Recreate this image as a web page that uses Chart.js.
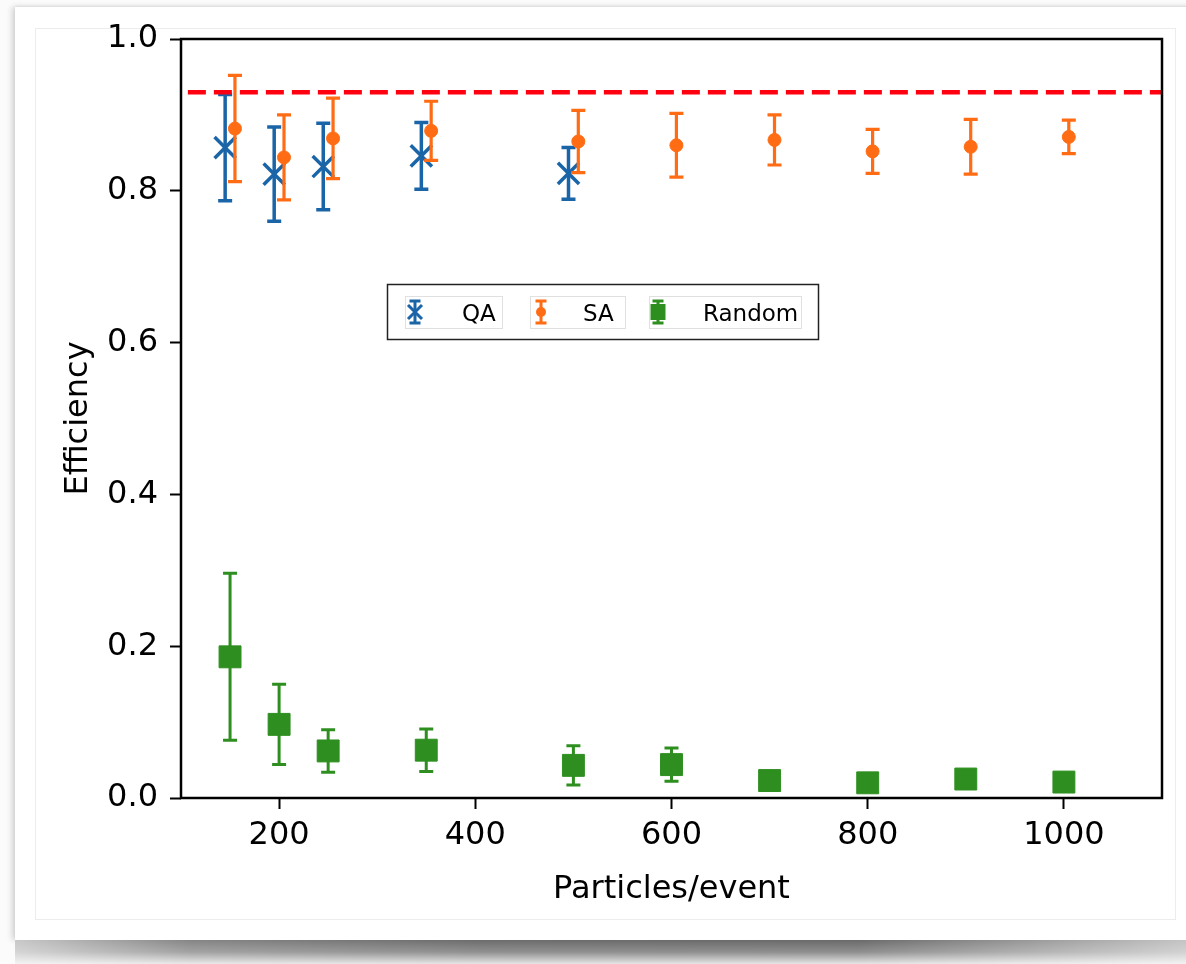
<!DOCTYPE html>
<html>
<head>
<meta charset="utf-8">
<script src="https://cdn.jsdelivr.net/npm/chart.js@4.4.1/dist/chart.umd.min.js"></script>
<style>
  html, body { margin: 0; padding: 0; background: #fbfbfb; }
  body { width: 1186px; height: 964px; position: relative; overflow: hidden; }
  #card { position: absolute; left: 15px; top: 7px; width: 1200px; height: 933px; background: #fff;
          box-shadow: -3px 0 6px rgba(0,0,0,0.16), 0 -1px 3px rgba(0,0,0,0.05); }
  #inner { position: absolute; left: 35px; top: 28px; width: 1141px; height: 892px;
           border: 1px solid #ececec; box-sizing: border-box; }
  #curl { position: absolute; left: 15px; top: 940px; width: 1171px; height: 24px;
          background: linear-gradient(to bottom, rgba(251,251,251,0) 0%, rgba(251,251,251,0.25) 50%, rgba(251,251,251,0.85) 100%),
                      linear-gradient(to right, #c8c8c8 0%, #858585 15%, #6c6c6c 40%, #6a6a6a 72%, #c4c4c4 100%); }
  #resultsChart { position: absolute; left: 0; top: 0; }
</style>
</head>
<body>
<div id="card"></div>
<div id="inner"></div>
<div id="curl"></div>
<canvas id="resultsChart" width="1186" height="964"></canvas>
<script>
// QA points (drawn slightly left of the particle count)
const qaX = [145, 195, 245, 345, 495];
const qaY = [0.857, 0.822, 0.832, 0.846, 0.823];
const qaErr = [0.070, 0.062, 0.057, 0.044, 0.034];

// SA points (slightly right)
const saX = [155, 205, 255, 355, 505, 605, 705, 805, 905, 1005];
const saY = [0.882, 0.844, 0.869, 0.879, 0.865, 0.860, 0.867, 0.852, 0.858, 0.871];
const saErr = [0.070, 0.056, 0.053, 0.039, 0.041, 0.042, 0.033, 0.029, 0.036, 0.022];

// Random
const rndX = [150, 200, 250, 350, 500, 600, 700, 800, 900, 1000];
const rndY = [0.186, 0.097, 0.062, 0.063, 0.043, 0.044, 0.023, 0.020, 0.025, 0.021];
const rndErr = [0.110, 0.053, 0.028, 0.028, 0.026, 0.022, 0.008, 0.008, 0.008, 0.008];

// dashed reference level
const refX = [107, 1100];
const refY = [0.93, 0.93];

const xTickValues = [200, 400, 600, 800, 1000];
const yTickValues = [0, 0.2, 0.4, 0.6, 0.8, 1.0];

const blue = '#1a65a8';
const orange = '#ff6c14';
const green = '#2e8f20';
const red = '#ff0010';
const font = 'DejaVu Sans';

const toPoints = (xs, ys) => xs.map((x, i) => ({ x: x, y: ys[i] }));

// error bars go under each series' markers
const errorBars = {
    id: 'errorBars',
    beforeDatasetDraw(chart, args) {
        const ds = chart.data.datasets[args.index];
        if (!ds.errors) return;
        const ctx = chart.ctx;
        const x = chart.scales.x;
        const y = chart.scales.y;
        ctx.save();
        ctx.strokeStyle = ds.borderColor;
        ctx.lineWidth = ds.barWidth;
        ds.data.forEach((p, i) => {
            const e = ds.errors[i];
            const px = x.getPixelForValue(p.x);
            const top = y.getPixelForValue(p.y + e);
            const bot = y.getPixelForValue(p.y - e);
            ctx.beginPath();
            ctx.moveTo(px, top);
            ctx.lineTo(px, bot);
            ctx.moveTo(px - ds.capHalf, top);
            ctx.lineTo(px + ds.capHalf, top);
            ctx.moveTo(px - ds.capHalf, bot);
            ctx.lineTo(px + ds.capHalf, bot);
            ctx.stroke();
        });
        ctx.restore();
    }
};

// full box round the plot
const frame = {
    id: 'frame',
    afterDatasetsDraw(chart) {
        const a = chart.chartArea;
        const ctx = chart.ctx;
        ctx.save();
        ctx.strokeStyle = '#000';
        ctx.lineWidth = 2.5;
        ctx.strokeRect(a.left, a.top, a.right - a.left, a.bottom - a.top);
        ctx.restore();
    }
};

function legendIcon(ctx, cx, cy, color, kind) {
    ctx.strokeStyle = color;
    ctx.fillStyle = color;
    ctx.lineWidth = 3;
    ctx.beginPath();
    ctx.moveTo(cx, cy - 11);
    ctx.lineTo(cx, cy + 11);
    ctx.moveTo(cx - 5.5, cy - 11);
    ctx.lineTo(cx + 5.5, cy - 11);
    ctx.moveTo(cx - 5.5, cy + 11);
    ctx.lineTo(cx + 5.5, cy + 11);
    ctx.stroke();
    if (kind === 'x') {
        ctx.beginPath();
        ctx.moveTo(cx - 7, cy - 7);
        ctx.lineTo(cx + 7, cy + 7);
        ctx.moveTo(cx + 7, cy - 7);
        ctx.lineTo(cx - 7, cy + 7);
        ctx.stroke();
    } else if (kind === 'o') {
        ctx.beginPath();
        ctx.arc(cx, cy, 5, 0, Math.PI * 2);
        ctx.fill();
    } else {
        ctx.fillRect(cx - 7.5, cy - 8, 15, 16);
    }
}

const boxLegend = {
    id: 'boxLegend',
    afterDraw(chart) {
        const ctx = chart.ctx;
        ctx.save();
        ctx.strokeStyle = '#e0e0e0';
        ctx.lineWidth = 1;
        ctx.strokeRect(405.5, 296.5, 97, 32);
        ctx.strokeRect(530.5, 296.5, 95, 32);
        ctx.strokeRect(649.5, 296.5, 152, 32);
        ctx.strokeStyle = '#222';
        ctx.lineWidth = 1.5;
        ctx.strokeRect(387.5, 284.5, 431, 55);

        legendIcon(ctx, 415, 312, blue, 'x');
        legendIcon(ctx, 541, 312, orange, 'o');
        legendIcon(ctx, 658, 312, green, 's');

        ctx.fillStyle = '#000';
        ctx.font = '23px "' + font + '"';
        ctx.textBaseline = 'alphabetic';
        const labels = chart.data.datasets.filter(d => d.errors).map(d => d.label);
        const tx = [462, 583, 703];
        labels.forEach((t, i) => ctx.fillText(t, tx[i], 321));
        ctx.restore();
    }
};

const ctx = document.getElementById('resultsChart').getContext('2d');
// eslint-disable-next-line no-undef
new Chart(ctx, {
    type: 'scatter',
    data: {
        datasets: [{
            label: 'QA',
            data: toPoints(qaX, qaY),
            errors: qaErr,
            capHalf: 7,
            barWidth: 3.5,
            pointStyle: 'crossRot',
            pointRadius: 15,
            pointBorderWidth: 3.5,
            borderColor: blue,
            backgroundColor: blue,
            order: 3
        }, {
            label: 'SA',
            data: toPoints(saX, saY),
            errors: saErr,
            capHalf: 7,
            barWidth: 3.2,
            pointStyle: 'circle',
            pointRadius: 6.5,
            pointBorderWidth: 1,
            borderColor: orange,
            backgroundColor: orange,
            order: 2
        }, {
            label: 'Random',
            data: toPoints(rndX, rndY),
            errors: rndErr,
            capHalf: 7,
            barWidth: 3,
            pointStyle: 'rect',
            pointRadius: 15.5,
            pointBorderWidth: 1,
            borderColor: green,
            backgroundColor: green,
            order: 1
        }, {
            label: 'level',
            type: 'line',
            data: toPoints(refX, refY),
            borderColor: red,
            borderWidth: 4.5,
            borderDash: [18, 8],
            pointRadius: 0,
            fill: false,
            order: 0
        }]
    },
    options: {
        responsive: false,
        animation: false,
        layout: { padding: { left: 0, right: 24, top: 39, bottom: 0 } },
        plugins: {
            legend: { display: false },
            tooltip: { enabled: false }
        },
        scales: {
            x: {
                type: 'linear',
                min: 100,
                max: 1100,
                afterFit: s => { s.height = 166; },
                afterBuildTicks: s => { s.ticks = xTickValues.map(v => ({ value: v })); },
                ticks: {
                    font: { family: font, size: 32 },
                    color: '#000',
                    padding: 7,
                    maxRotation: 0,
                    autoSkip: false,
                    callback: v => String(v)
                },
                grid: { drawOnChartArea: false, drawTicks: true, tickLength: 11, tickWidth: 2, tickColor: '#000' },
                border: { display: false },
                title: {
                    display: true,
                    text: 'Particles/event',
                    font: { family: font, size: 32 },
                    color: '#000',
                    padding: { top: 0, bottom: 55 }
                }
            },
            y: {
                type: 'linear',
                min: 0,
                max: 1.0,
                afterFit: s => { s.width = 181; },
                afterBuildTicks: s => { s.ticks = yTickValues.map(v => ({ value: v })); },
                ticks: {
                    font: { family: font, size: 32 },
                    color: '#000',
                    padding: 12,
                    autoSkip: false,
                    callback: v => v.toFixed(1)
                },
                grid: { drawOnChartArea: false, drawTicks: true, tickLength: 11, tickWidth: 2, tickColor: '#000' },
                border: { display: false },
                title: {
                    display: true,
                    text: 'Efficiency',
                    font: { family: font, size: 32 },
                    color: '#000',
                    padding: { top: 59, bottom: 0 }
                }
            }
        }
    },
    plugins: [errorBars, frame, boxLegend]
});
</script>
</body>
</html>
